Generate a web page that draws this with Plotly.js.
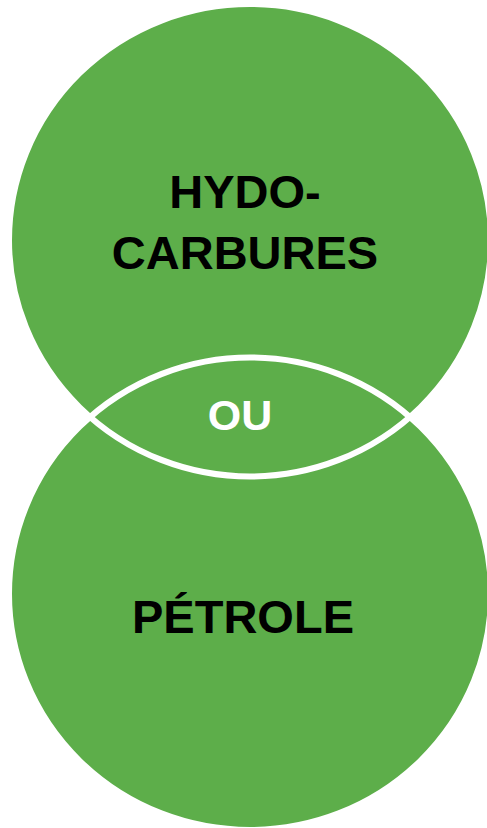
<!DOCTYPE html>
<html>
<head>
<meta charset="utf-8">
<script src="https://cdn.plot.ly/plotly-3.0.1.min.js"></script>
<style>html,body{margin:0;padding:0;background:#fff;}#chart{width:487px;height:828px;}</style>
</head>
<body>
<div id="chart"></div>
<script>
// Venn diagram content
const setLabels = ["HYDO-<br>CARBURES", "PÉTROLE"];
const overlapLabel = ["OU"];

const green = "#5DAE4A";
const W = 487, H = 828;

// layout geometry (pixel-space data coordinates)
const circles = [
  {x0: 9, x1: 491, y0: 4, y1: 476.5},
  {x0: 9, x1: 491, y0: 357.5, y1: 830}
];
const setPos = [{x: 245, y: 227}, {x: 243, y: 621}];
const overlapPos = [{x: 240, y: 419}];

const shapes = [];
circles.forEach(c => shapes.push({type: "circle", xref: "x", yref: "y", x0: c.x0, x1: c.x1, y0: c.y0, y1: c.y1,
  fillcolor: green, line: {width: 0}, layer: "below"}));
circles.forEach(c => shapes.push({type: "circle", xref: "x", yref: "y", x0: c.x0, x1: c.x1, y0: c.y0, y1: c.y1,
  fillcolor: "rgba(0,0,0,0)", line: {width: 6, color: "#ffffff"}, layer: "below"}));

const traces = [
  {type: "scatter", mode: "text", x: setPos.map(p => p.x), y: setPos.map(p => p.y), text: setLabels,
   textposition: "middle center", textfont: {family: "Liberation Sans, Arial, sans-serif", size: 47, color: "#000000", weight: 700},
   hoverinfo: "skip", showlegend: false},
  {type: "scatter", mode: "text", x: overlapPos.map(p => p.x), y: overlapPos.map(p => p.y), text: overlapLabel,
   textposition: "middle center", textfont: {family: "Liberation Sans, Arial, sans-serif", size: 43, color: "#ffffff", weight: 700},
   hoverinfo: "skip", showlegend: false}
];

const layout = {
  width: W, height: H,
  margin: {l: 0, r: 0, t: 0, b: 0},
  paper_bgcolor: "#ffffff", plot_bgcolor: "#ffffff",
  xaxis: {range: [0, W], visible: false, fixedrange: true},
  yaxis: {range: [H, 0], visible: false, fixedrange: true},
  shapes: shapes,
  showlegend: false
};
Plotly.newPlot("chart", traces, layout, {staticPlot: true, displayModeBar: false});
</script>
</body>
</html>
